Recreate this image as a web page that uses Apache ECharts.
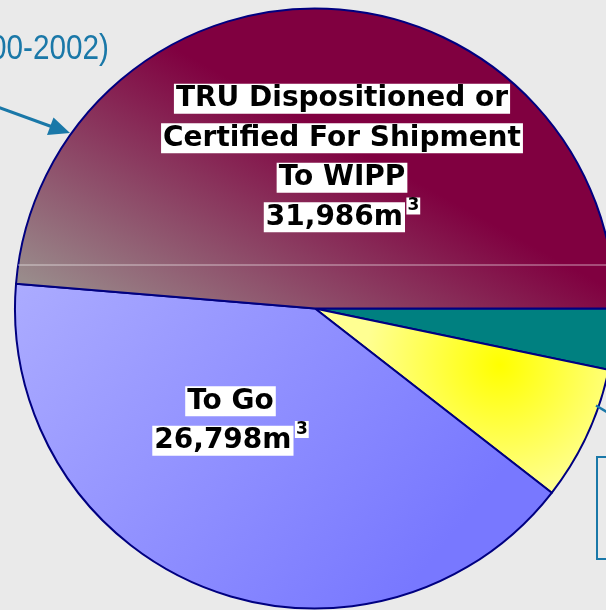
<!DOCTYPE html>
<html>
<head>
<meta charset="utf-8">
<script src="https://cdn.jsdelivr.net/npm/echarts@6/dist/echarts.min.js"></script>
<style>
html,body{margin:0;padding:0;background:#eaeaea;}
#chart{width:606px;height:610px;}
</style>
</head>
<body>
<div id="chart"></div>
<script>
// ---- data ----
const categories = ['Other', 'Shipped', 'To Go', 'TRU Dispositioned or Certified For Shipment To WIPP'];
const values = [2150, 4766, 26798, 31986];
const labelLines = [[], [], ['To Go'], ['TRU Dispositioned or', 'Certified For Shipment', 'To WIPP']];
const calloutText = '(2000-2002)';

// ---- styles / layout ----
const sliceColors = [
  '#008080',
  { type: 'radial', x: 500, y: 365, r: 135, global: true,
    colorStops: [{ offset: 0, color: '#ffff00' }, { offset: 1, color: '#ffff92' }] },
  { type: 'linear', x: 15, y: 290, x2: 400, y2: 600, global: true,
    colorStops: [{ offset: 0, color: '#ababff' }, { offset: 1, color: '#7878ff' }] },
  { type: 'linear', x: 25, y: 280, x2: 158, y2: 39, global: true,
    colorStops: [{ offset: 0, color: '#998b8b' }, { offset: 1, color: '#800040' }] }
];
const labelPos = [null, null, [230.5, 421], [342, 158]];
const calloutColor = '#1a78a8';

const chart = echarts.init(document.getElementById('chart'), null, { renderer: 'canvas' });

const boxStyle = {
  fontFamily: 'DejaVu Sans', fontWeight: 'bold', fontSize: 28, color: '#000',
  backgroundColor: '#ffffff', padding: [1, 2], lineHeight: 39.5
};

function fmt(p) {
  const lines = labelLines[p.dataIndex];
  if (!lines.length) return '';
  const parts = lines.map(l => '{a|' + l + '}');
  parts.push('{a|' + values[p.dataIndex].toLocaleString('en-US') + 'm}{sp| }{sup|3}');
  return parts.join('\n');
}

chart.setOption({
  animation: false,
  backgroundColor: '#eaeaea',
  series: [{
    type: 'pie',
    center: [315, 308.5],
    radius: 300,
    startAngle: 0,
    clockwise: true,
    avoidLabelOverlap: false,
    silent: true,
    itemStyle: { borderColor: '#000080', borderWidth: 2 },
    label: {
      show: true,
      position: 'inside',
      formatter: fmt,
      lineHeight: 39.5,
      rich: {
        a: boxStyle,
        sp: { fontSize: 5, lineHeight: 39.5 },
        sup: { fontFamily: 'DejaVu Sans', fontWeight: 'bold', fontSize: 17, color: '#000',
               backgroundColor: '#ffffff', padding: [0, 1], verticalAlign: 'top', lineHeight: 39.5 }
      }
    },
    labelLine: { show: false },
    labelLayout: function (p) {
      const pos = labelPos[p.dataIndex];
      if (!pos) return {};
      return { x: pos[0], y: pos[1], align: 'center', verticalAlign: 'middle' };
    },
    emphasis: { disabled: true },
    data: categories.map((c, i) => ({
      name: c,
      value: values[i],
      itemStyle: { color: sliceColors[i] },
      label: { show: labelLines[i].length > 0 }
    }))
  }],
  graphic: [
    { type: 'line', z: 100, silent: true,
      shape: { x1: 18, y1: 265, x2: 606, y2: 265 },
      style: { stroke: 'rgba(255,255,255,0.6)', lineWidth: 1 } },
    { type: 'text', z: 100, x: 109, y: 49, scaleX: 0.85, silent: true,
      style: { text: calloutText, fill: calloutColor, font: '35px "Liberation Sans", Arial, sans-serif',
               align: 'right', verticalAlign: 'middle' } },
    { type: 'line', z: 100, silent: true,
      shape: { x1: -5, y1: 106, x2: 54, y2: 127.5 },
      style: { stroke: calloutColor, lineWidth: 3 } },
    { type: 'polygon', z: 100, silent: true,
      shape: { points: [[70, 133], [47, 135], [53.5, 117.5]] },
      style: { fill: calloutColor } },
    { type: 'rect', z: 100, silent: true,
      shape: { x: 597, y: 457, width: 30, height: 102 },
      style: { fill: 'none', stroke: calloutColor, lineWidth: 2 } },
    { type: 'line', z: 100, silent: true,
      shape: { x1: 596, y1: 405.5, x2: 610, y2: 414 },
      style: { stroke: calloutColor, lineWidth: 2.5 } }
  ]
});
</script>
</body>
</html>
